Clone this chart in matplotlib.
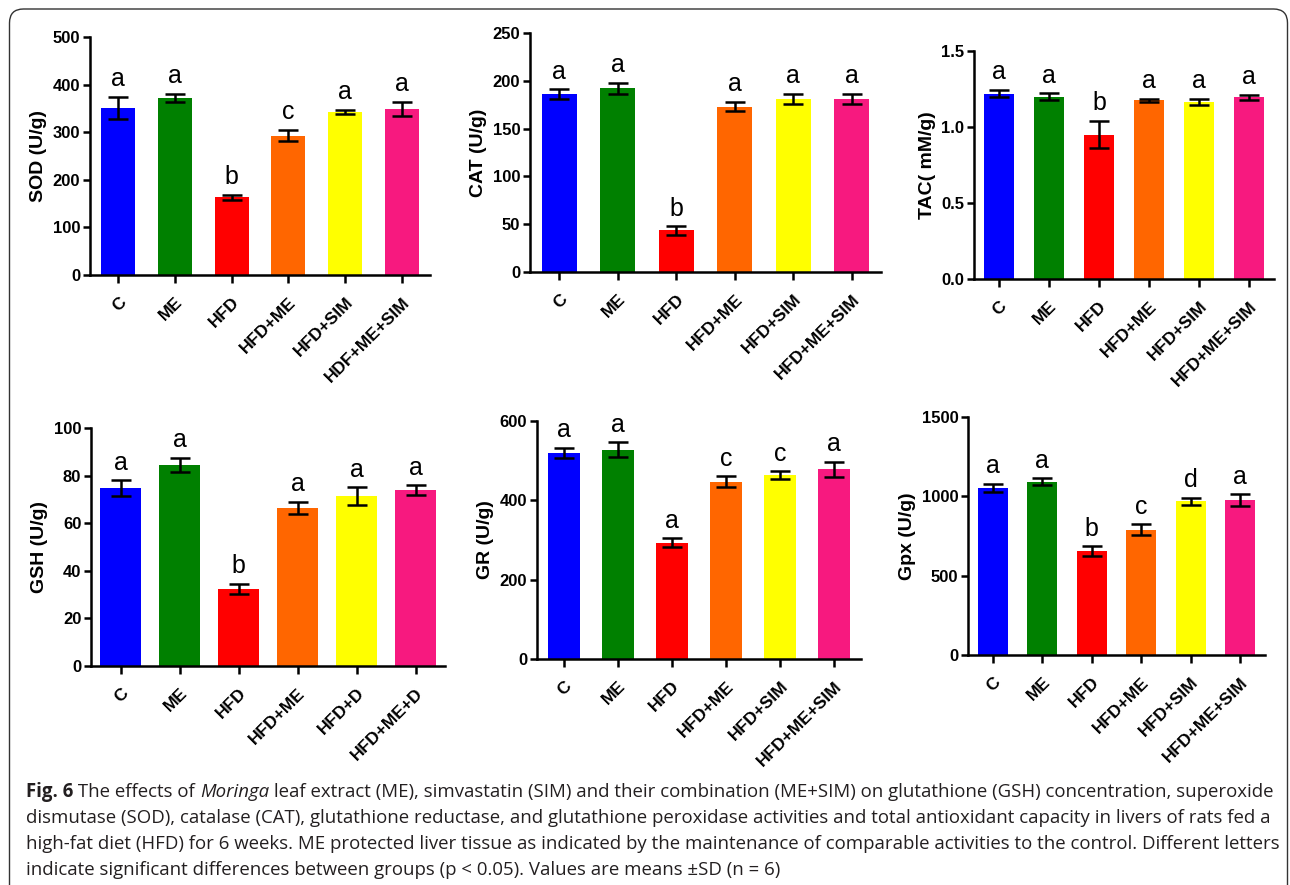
import matplotlib
matplotlib.use("Agg")
import matplotlib.pyplot as plt
from matplotlib.patches import FancyBboxPatch

W, H = 1290, 885
COLORS = ["#0000FF", "#008000", "#FF0000", "#FF6600", "#FFFF00", "#F7197F"]

GROUPS_SIM = ["C", "ME", "HFD", "HFD+ME", "HFD+SIM", "HFD+ME+SIM"]
GROUPS_SOD = ["C", "ME", "HFD", "HFD+ME", "HFD+SIM", "HDF+ME+SIM"]
GROUPS_GSH = ["C", "ME", "HFD", "HFD+ME", "HFD+D", "HFD+ME+D"]

sod_mean = [351, 372, 163, 293, 343, 349]
sod_sd = [23, 9, 6, 12, 4, 15]
sod_letters = ["a", "a", "b", "c", "a", "a"]

cat_mean = [186, 192, 43.5, 173, 181, 181]
cat_sd = [5, 6, 4.5, 5, 5.5, 5.5]
cat_letters = ["a", "a", "b", "a", "a", "a"]

tac_mean = [1.22, 1.20, 0.95, 1.175, 1.165, 1.195]
tac_sd = [0.025, 0.022, 0.09, 0.01, 0.02, 0.018]
tac_letters = ["a", "a", "b", "a", "a", "a"]

gsh_mean = [74.8, 84.4, 32.3, 66.4, 71.4, 74.0]
gsh_sd = [3.2, 3.0, 2.2, 2.6, 3.7, 2.0]
gsh_letters = ["a", "a", "b", "a", "a", "a"]

gr_mean = [519, 528, 293, 447, 464, 478]
gr_sd = [13, 18, 11, 14, 9, 19]
gr_letters = ["a", "a", "a", "c", "c", "a"]

gpx_mean = [1055, 1093, 655, 790, 968, 975]
gpx_sd = [25, 22, 30, 35, 24, 38]
gpx_letters = ["a", "a", "b", "c", "d", "a"]

# panel boxes in pixels: left, right, top, bottom
PANELS = [
    ("SOD (U/g)", GROUPS_SOD, sod_mean, sod_sd, sod_letters, 500, [0, 100, 200, 300, 400, 500], (90, 430, 37, 275), 0.6),
    ("CAT (U/g)", GROUPS_SIM, cat_mean, cat_sd, cat_letters, 250, [0, 50, 100, 150, 200, 250], (530, 881, 33, 272), 0.6),
    ("TAC( mM/g)", GROUPS_SIM, tac_mean, tac_sd, tac_letters, 1.5, [0.0, 0.5, 1.0, 1.5], (974, 1274, 51, 279), 0.6),
    ("GSH (U/g)", GROUPS_GSH, gsh_mean, gsh_sd, gsh_letters, 100, [0, 20, 40, 60, 80, 100], (91, 445, 428, 666), 0.68),
    ("GR (U/g)", GROUPS_SIM, gr_mean, gr_sd, gr_letters, 600, [0, 200, 400, 600], (537, 861, 421, 659), 0.6),
    ("Gpx (U/g)", GROUPS_SIM, gpx_mean, gpx_sd, gpx_letters, 1500, [0, 500, 1000, 1500], (968, 1265, 417, 655), 0.6),
]

plt.rcParams["font.family"] = ["Liberation Sans", "DejaVu Sans"]

fig = plt.figure(figsize=(W / 100, H / 100), dpi=100)

for label, groups, mean, sd, letters, ytop, yticks, (l, r, t, b), bw in PANELS:
    ax = fig.add_axes([l / W, 1 - b / H, (r - l) / W, (b - t) / H])
    x = list(range(len(groups)))
    ax.bar(x, mean, width=bw, color=COLORS, edgecolor="none", zorder=2)
    ax.errorbar(x, mean, yerr=sd, fmt="none", ecolor="black", elinewidth=1.8,
                capsize=7, capthick=1.8, zorder=3)
    for xi, m, s, letter in zip(x, mean, sd, letters):
        ax.annotate(letter, (xi, m + s), xytext=(0, 4), textcoords="offset points",
                    ha="center", va="bottom", fontsize=18)
    ax.set_xlim(-0.5, len(groups) - 0.5)
    ax.set_ylim(0, ytop)
    ax.set_yticks(yticks)
    if ytop == 1.5:
        ax.set_yticklabels([f"{v:.1f}" for v in yticks])
    ax.set_xticks(x)
    ax.set_xticklabels(groups, rotation=45, ha="right", rotation_mode="anchor",
                       fontweight="bold", fontsize=12.5)
    for tl in ax.get_yticklabels():
        tl.set_fontweight("bold")
        tl.set_fontsize(12)
    ax.set_ylabel(label, fontweight="bold", fontsize=14, labelpad=4)
    ax.spines["top"].set_visible(False)
    ax.spines["right"].set_visible(False)
    for s in ("left", "bottom"):
        ax.spines[s].set_linewidth(1.8)
    ax.tick_params(direction="out", length=5, width=1.8, pad=2)
    ax.tick_params(axis="x", length=6, pad=8)

# outer border
fig.add_artist(FancyBboxPatch((0.095, -0.3), 12.78, 9.06,
                              boxstyle="round,pad=0,rounding_size=0.14",
                              transform=fig.dpi_scale_trans, facecolor="none",
                              edgecolor="#333333", linewidth=1.0))

# caption, drawn piece by piece so bold and italic runs sit inline
CAPTION = [
    [("Fig. 6", "bold", "normal"), (" The effects of ", "normal", "normal"), ("Moringa", "normal", "italic"),
     (" leaf extract (ME), simvastatin (SIM) and their combination (ME+SIM) on glutathione (GSH) concentration, superoxide", "normal", "normal")],
    [("dismutase (SOD), catalase (CAT), glutathione reductase, and glutathione peroxidase activities and total antioxidant capacity in livers of rats fed a", "normal", "normal")],
    [("high-fat diet (HFD) for 6 weeks. ME protected liver tissue as indicated by the maintenance of comparable activities to the control. Different letters", "normal", "normal")],
    [("indicate significant differences between groups (p < 0.05). Values are means \u00b1SD (n = 6)", "normal", "normal")],
]
renderer = fig.canvas.get_renderer()
for i, line in enumerate(CAPTION):
    xpix = 26
    ypix = 797 + i * 26
    for txt, weight, style in line:
        t = fig.text(xpix / W, 1 - ypix / H, txt, fontsize=13.4, fontweight=weight, fontstyle=style,
                     family=["Open Sans", "DejaVu Sans"], color="#231f20", va="baseline", ha="left")
        xpix += t.get_window_extent(renderer).width

fig.savefig("out.png", dpi=100, facecolor="white")
